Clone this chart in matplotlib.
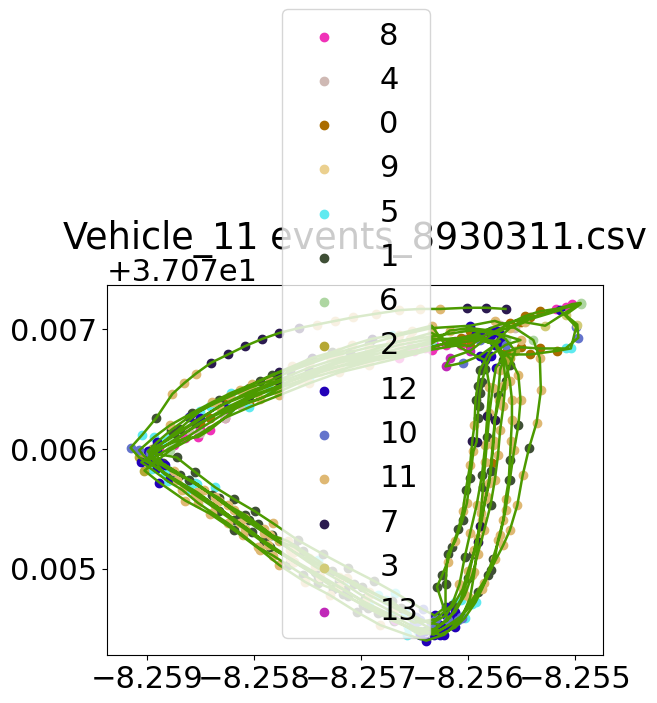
import numpy as np
import matplotlib
matplotlib.use("Agg")
import matplotlib.pyplot as plt

TITLE = "Vehicle_11 events_8930311.csv"

# draw order of the clusters, same as the legend
labels = [8, 4, 0, 9, 5, 1, 6, 2, 12, 10, 11, 7, 3, 13]
colors = ["#f032b8", "#cfb9b4", "#aa6c00", "#ebd08f", "#5feaf0", "#3f4f36", "#aed6a2",
          "#b5a835", "#2200b8", "#6474cc", "#dfb873", "#2b1a50", "#d2cc78", "#c028b8"]

# (lon, lat, cluster), one list per lap
lap_1 = [(-8.25565, 37.07717, 7), (-8.25583, 37.07718, 7), (-8.25601, 37.07718, 7), (-8.25626, 37.07717, 11),
         (-8.25645, 37.07717, 11), (-8.25664, 37.07716, 11), (-8.25686, 37.07713, 11), (-8.25707, 37.07710, 11),
         (-8.25724, 37.07707, 11), (-8.25741, 37.07704, 11), (-8.25758, 37.07701, 7), (-8.25776, 37.07697, 7),
         (-8.25792, 37.07692, 7), (-8.25808, 37.07686, 7), (-8.25824, 37.07679, 7), (-8.25840, 37.07672, 7),
         (-8.25854, 37.07663, 11), (-8.25865, 37.07655, 11), (-8.25876, 37.07646, 11), (-8.25891, 37.07626, 1),
         (-8.25904, 37.07612, 5), (-8.25915, 37.07601, 10), (-8.25907, 37.07593, 2), (-8.25890, 37.07584, 12),
         (-8.25872, 37.07574, 11), (-8.25853, 37.07564, 11), (-8.25836, 37.07553, 11), (-8.25818, 37.07541, 1),
         (-8.25802, 37.07531, 1), (-8.25787, 37.07520, 11), (-8.25763, 37.07506, 1), (-8.25740, 37.07493, 1),
         (-8.25717, 37.07479, 1), (-8.25693, 37.07467, 1), (-8.25669, 37.07456, 1), (-8.25647, 37.07448, 5),
         (-8.25632, 37.07445, 12), (-8.25620, 37.07452, 12), (-8.25607, 37.07460, 10), (-8.25591, 37.07481, 1),
         (-8.25579, 37.07499, 1), (-8.25567, 37.07520, 11), (-8.25561, 37.07532, 11), (-8.25554, 37.07553, 11),
         (-8.25549, 37.07578, 11), (-8.25543, 37.07601, 1), (-8.25536, 37.07622, 11), (-8.25532, 37.07649, 11),
         (-8.25533, 37.07676, 11), (-8.25539, 37.07691, 6), (-8.25556, 37.07701, 4), (-8.25575, 37.07707, 11),
         (-8.25598, 37.07703, 12)]
lap_2 = [(-8.25634, 37.07701, 11), (-8.25664, 37.07695, 11), (-8.25692, 37.07688, 1), (-8.25720, 37.07681, 11),
         (-8.25748, 37.07673, 1), (-8.25776, 37.07664, 7), (-8.25794, 37.07657, 1), (-8.25813, 37.07649, 11),
         (-8.25832, 37.07641, 1), (-8.25850, 37.07632, 5), (-8.25869, 37.07617, 1), (-8.25883, 37.07607, 5),
         (-8.25897, 37.07597, 10), (-8.25872, 37.07593, 1), (-8.25855, 37.07581, 1), (-8.25836, 37.07568, 5),
         (-8.25818, 37.07558, 1), (-8.25799, 37.07548, 1), (-8.25782, 37.07538, 11), (-8.25759, 37.07524, 1),
         (-8.25735, 37.07512, 1), (-8.25712, 37.07501, 1), (-8.25688, 37.07490, 1), (-8.25668, 37.07480, 5),
         (-8.25642, 37.07466, 10), (-8.25631, 37.07461, 12), (-8.25621, 37.07468, 12), (-8.25621, 37.07487, 1),
         (-8.25619, 37.07512, 1), (-8.25612, 37.07523, 11), (-8.25605, 37.07541, 1), (-8.25601, 37.07555, 11),
         (-8.25598, 37.07576, 1), (-8.25595, 37.07598, 11), (-8.25592, 37.07606, 7), (-8.25591, 37.07626, 1),
         (-8.25590, 37.07636, 1), (-8.25589, 37.07647, 1), (-8.25587, 37.07656, 1), (-8.25584, 37.07667, 1),
         (-8.25579, 37.07678, 12), (-8.25565, 37.07687, 10), (-8.25551, 37.07691, 11)]
lap_3 = [(-8.25570, 37.07696, 12), (-8.25598, 37.07699, 0), (-8.25634, 37.07694, 11), (-8.25664, 37.07690, 11),
         (-8.25692, 37.07682, 5), (-8.25720, 37.07676, 11), (-8.25748, 37.07668, 11), (-8.25776, 37.07658, 1),
         (-8.25804, 37.07648, 11), (-8.25827, 37.07638, 0), (-8.25850, 37.07626, 12), (-8.25874, 37.07612, 1),
         (-8.25892, 37.07601, 12), (-8.25897, 37.07593, 12), (-8.25878, 37.07582, 5), (-8.25855, 37.07572, 5),
         (-8.25832, 37.07557, 11), (-8.25808, 37.07542, 11), (-8.25785, 37.07528, 11), (-8.25762, 37.07514, 11),
         (-8.25738, 37.07502, 11), (-8.25715, 37.07491, 5), (-8.25692, 37.07478, 11), (-8.25668, 37.07467, 11),
         (-8.25645, 37.07457, 10), (-8.25626, 37.07453, 12), (-8.25612, 37.07464, 12), (-8.25603, 37.07478, 11),
         (-8.25596, 37.07495, 11), (-8.25591, 37.07512, 11), (-8.25585, 37.07532, 11), (-8.25579, 37.07553, 1),
         (-8.25575, 37.07574, 11), (-8.25572, 37.07595, 11), (-8.25570, 37.07616, 11), (-8.25567, 37.07636, 11),
         (-8.25565, 37.07657, 1), (-8.25567, 37.07674, 1), (-8.25575, 37.07687, 12), (-8.25589, 37.07695, 12)]
lap_4 = [(-8.25607, 37.07693, 0), (-8.25634, 37.07690, 5), (-8.25664, 37.07684, 11), (-8.25692, 37.07678, 1),
         (-8.25720, 37.07672, 11), (-8.25748, 37.07663, 11), (-8.25776, 37.07653, 11), (-8.25804, 37.07644, 7),
         (-8.25827, 37.07634, 12), (-8.25850, 37.07622, 0), (-8.25874, 37.07607, 4), (-8.25897, 37.07595, 2),
         (-8.25883, 37.07579, 5), (-8.25860, 37.07567, 5), (-8.25836, 37.07553, 11), (-8.25813, 37.07538, 11),
         (-8.25790, 37.07523, 1), (-8.25766, 37.07509, 11), (-8.25743, 37.07497, 1), (-8.25720, 37.07485, 11),
         (-8.25696, 37.07472, 11), (-8.25673, 37.07462, 5), (-8.25650, 37.07451, 10), (-8.25631, 37.07449, 12),
         (-8.25617, 37.07459, 12), (-8.25607, 37.07474, 5), (-8.25600, 37.07492, 1), (-8.25594, 37.07516, 11),
         (-8.25589, 37.07536, 7), (-8.25583, 37.07561, 11), (-8.25579, 37.07582, 1), (-8.25577, 37.07603, 11),
         (-8.25575, 37.07624, 7), (-8.25572, 37.07645, 1), (-8.25570, 37.07666, 11), (-8.25565, 37.07681, 0),
         (-8.25551, 37.07685, 0), (-8.25533, 37.07684, 0), (-8.25509, 37.07684, 5), (-8.25497, 37.07693, 10),
         (-8.25498, 37.07704, 3), (-8.25509, 37.07712, 3), (-8.25495, 37.07721, 6), (-8.25509, 37.07718, 8),
         (-8.25542, 37.07710, 0), (-8.25570, 37.07704, 4), (-8.25593, 37.07696, 12)]
lap_5 = [(-8.25634, 37.07685, 8), (-8.25664, 37.07678, 8), (-8.25692, 37.07673, 9), (-8.25720, 37.07666, 11),
         (-8.25748, 37.07659, 5), (-8.25776, 37.07648, 8), (-8.25804, 37.07639, 0), (-8.25827, 37.07630, 8),
         (-8.25850, 37.07617, 8), (-8.25874, 37.07603, 8), (-8.25899, 37.07590, 12), (-8.25878, 37.07576, 12),
         (-8.25855, 37.07562, 11), (-8.25832, 37.07548, 1), (-8.25808, 37.07533, 11), (-8.25785, 37.07518, 1),
         (-8.25762, 37.07506, 11), (-8.25738, 37.07493, 11), (-8.25715, 37.07482, 1), (-8.25692, 37.07469, 5),
         (-8.25668, 37.07457, 13), (-8.25645, 37.07445, 12), (-8.25626, 37.07449, 12), (-8.25609, 37.07457, 10),
         (-8.25596, 37.07471, 5), (-8.25585, 37.07488, 11), (-8.25577, 37.07508, 1), (-8.25570, 37.07528, 11),
         (-8.25565, 37.07549, 11), (-8.25561, 37.07574, 1), (-8.25557, 37.07599, 11), (-8.25553, 37.07620, 1),
         (-8.25551, 37.07641, 11), (-8.25553, 37.07662, 11), (-8.25561, 37.07676, 2), (-8.25575, 37.07687, 6),
         (-8.25589, 37.07692, 12), (-8.25598, 37.07686, 0)]
lap_6 = [(-8.25607, 37.07687, 8), (-8.25634, 37.07683, 8), (-8.25664, 37.07676, 8), (-8.25692, 37.07670, 11),
         (-8.25720, 37.07664, 11), (-8.25748, 37.07655, 11), (-8.25776, 37.07645, 11), (-8.25804, 37.07635, 5),
         (-8.25827, 37.07626, 8), (-8.25850, 37.07613, 4), (-8.25878, 37.07599, 6), (-8.25902, 37.07582, 2),
         (-8.25888, 37.07572, 12), (-8.25864, 37.07557, 11), (-8.25841, 37.07546, 11), (-8.25818, 37.07532, 1),
         (-8.25794, 37.07516, 11), (-8.25776, 37.07503, 11), (-8.25752, 37.07489, 11), (-8.25729, 37.07478, 11),
         (-8.25704, 37.07464, 1), (-8.25682, 37.07453, 11), (-8.25657, 37.07445, 5), (-8.25639, 37.07440, 12),
         (-8.25622, 37.07445, 12), (-8.25606, 37.07459, 10), (-8.25598, 37.07476, 11), (-8.25594, 37.07497, 11),
         (-8.25591, 37.07522, 7), (-8.25588, 37.07547, 11), (-8.25586, 37.07568, 1), (-8.25584, 37.07589, 11),
         (-8.25582, 37.07610, 1), (-8.25580, 37.07630, 11), (-8.25577, 37.07651, 11), (-8.25574, 37.07668, 12),
         (-8.25565, 37.07679, 0), (-8.25542, 37.07679, 0), (-8.25517, 37.07682, 0), (-8.25504, 37.07684, 5),
         (-8.25499, 37.07702, 10), (-8.25514, 37.07716, 12), (-8.25551, 37.07706, 0), (-8.25579, 37.07695, 12)]
lap_7 = [(-8.25598, 37.07682, 13), (-8.25617, 37.07676, 13), (-8.25621, 37.07669, 13), (-8.25605, 37.07672, 10),
         (-8.25589, 37.07678, 12), (-8.25570, 37.07690, 12), (-8.25598, 37.07692, 0), (-8.25634, 37.07692, 11),
         (-8.25664, 37.07687, 11), (-8.25692, 37.07680, 1), (-8.25720, 37.07674, 1), (-8.25748, 37.07665, 7),
         (-8.25776, 37.07656, 7), (-8.25804, 37.07646, 1), (-8.25832, 37.07636, 11), (-8.25855, 37.07622, 1),
         (-8.25878, 37.07609, 5), (-8.25895, 37.07600, 2), (-8.25885, 37.07588, 1), (-8.25860, 37.07574, 1),
         (-8.25836, 37.07560, 11), (-8.25813, 37.07544, 1), (-8.25790, 37.07530, 11), (-8.25766, 37.07516, 11),
         (-8.25743, 37.07502, 11), (-8.25720, 37.07490, 1), (-8.25696, 37.07476, 1), (-8.25673, 37.07465, 5),
         (-8.25650, 37.07455, 10), (-8.25630, 37.07458, 10), (-8.25615, 37.07470, 1), (-8.25608, 37.07487, 11),
         (-8.25603, 37.07510, 1), (-8.25598, 37.07530, 11), (-8.25592, 37.07553, 11), (-8.25587, 37.07578, 1),
         (-8.25584, 37.07603, 11), (-8.25582, 37.07628, 7), (-8.25580, 37.07652, 11), (-8.25584, 37.07674, 12)]
lap_8 = [(-8.25634, 37.07697, 11), (-8.25654, 37.07692, 11), (-8.25673, 37.07688, 11), (-8.25692, 37.07685, 11),
         (-8.25710, 37.07681, 1), (-8.25729, 37.07677, 11), (-8.25748, 37.07671, 11), (-8.25766, 37.07665, 1),
         (-8.25785, 37.07657, 11), (-8.25804, 37.07651, 1), (-8.25822, 37.07644, 11), (-8.25841, 37.07636, 5),
         (-8.25860, 37.07627, 12), (-8.25877, 37.07616, 1), (-8.25890, 37.07606, 12), (-8.25899, 37.07598, 12),
         (-8.25888, 37.07589, 12), (-8.25874, 37.07582, 11), (-8.25860, 37.07574, 5), (-8.25846, 37.07566, 11),
         (-8.25832, 37.07559, 1), (-8.25818, 37.07549, 11), (-8.25804, 37.07541, 1), (-8.25790, 37.07533, 11),
         (-8.25776, 37.07523, 11), (-8.25762, 37.07518, 1), (-8.25748, 37.07509, 11), (-8.25734, 37.07501, 1),
         (-8.25720, 37.07493, 11), (-8.25706, 37.07487, 1), (-8.25692, 37.07481, 11), (-8.25677, 37.07474, 5),
         (-8.25663, 37.07467, 1), (-8.25649, 37.07460, 10), (-8.25635, 37.07454, 10), (-8.25621, 37.07461, 12),
         (-8.25612, 37.07472, 5), (-8.25605, 37.07483, 11), (-8.25600, 37.07498, 11), (-8.25595, 37.07512, 1),
         (-8.25591, 37.07526, 11), (-8.25587, 37.07541, 11), (-8.25584, 37.07558, 11), (-8.25580, 37.07572, 11),
         (-8.25578, 37.07588, 0), (-8.25576, 37.07607, 11), (-8.25575, 37.07624, 11), (-8.25571, 37.07641, 11),
         (-8.25567, 37.07653, 11), (-8.25561, 37.07670, 1), (-8.25556, 37.07682, 2), (-8.25565, 37.07692, 6),
         (-8.25579, 37.07699, 12), (-8.25598, 37.07701, 0), (-8.25617, 37.07699, 11)]
lap_9 = [(-8.25634, 37.07688, 8), (-8.25654, 37.07684, 8), (-8.25673, 37.07679, 9), (-8.25692, 37.07676, 11),
         (-8.25710, 37.07672, 9), (-8.25729, 37.07667, 11), (-8.25748, 37.07662, 9), (-8.25766, 37.07657, 11),
         (-8.25785, 37.07649, 5), (-8.25804, 37.07642, 11), (-8.25822, 37.07634, 5), (-8.25841, 37.07626, 0),
         (-8.25860, 37.07616, 4), (-8.25877, 37.07606, 6), (-8.25890, 37.07598, 12), (-8.25905, 37.07589, 12),
         (-8.25895, 37.07583, 5), (-8.25880, 37.07573, 5), (-8.25867, 37.07566, 11), (-8.25852, 37.07555, 11),
         (-8.25839, 37.07547, 11), (-8.25824, 37.07538, 11), (-8.25810, 37.07528, 11), (-8.25796, 37.07518, 11),
         (-8.25782, 37.07511, 11), (-8.25768, 37.07503, 1), (-8.25754, 37.07495, 1), (-8.25740, 37.07488, 1),
         (-8.25726, 37.07483, 1), (-8.25712, 37.07477, 1), (-8.25698, 37.07470, 1), (-8.25684, 37.07463, 1),
         (-8.25670, 37.07458, 1), (-8.25656, 37.07451, 5), (-8.25640, 37.07448, 12), (-8.25626, 37.07445, 12),
         (-8.25612, 37.07451, 12), (-8.25603, 37.07459, 5), (-8.25593, 37.07472, 5), (-8.25587, 37.07483, 11),
         (-8.25581, 37.07495, 1), (-8.25575, 37.07508, 11), (-8.25572, 37.07524, 11), (-8.25567, 37.07541, 11),
         (-8.25565, 37.07558, 11), (-8.25562, 37.07574, 1), (-8.25561, 37.07591, 1), (-8.25560, 37.07607, 11),
         (-8.25559, 37.07624, 11), (-8.25559, 37.07641, 11), (-8.25561, 37.07657, 11), (-8.25565, 37.07674, 2),
         (-8.25573, 37.07687, 12), (-8.25589, 37.07691, 10), (-8.25607, 37.07689, 0), (-8.25621, 37.07687, 8)]
lap_10 = [(-8.25634, 37.07703, 11), (-8.25652, 37.07699, 11), (-8.25671, 37.07695, 5), (-8.25690, 37.07692, 7),
          (-8.25708, 37.07687, 11), (-8.25727, 37.07681, 1), (-8.25746, 37.07676, 7), (-8.25764, 37.07669, 11),
          (-8.25783, 37.07662, 1), (-8.25802, 37.07654, 11), (-8.25821, 37.07647, 5), (-8.25839, 37.07639, 11),
          (-8.25858, 37.07630, 1), (-8.25878, 37.07620, 11), (-8.25893, 37.07610, 5), (-8.25907, 37.07599, 10),
          (-8.25897, 37.07589, 2), (-8.25883, 37.07587, 12), (-8.25869, 37.07578, 1), (-8.25853, 37.07571, 5),
          (-8.25839, 37.07562, 1), (-8.25824, 37.07553, 11), (-8.25808, 37.07545, 1), (-8.25796, 37.07537, 1),
          (-8.25783, 37.07528, 1), (-8.25768, 37.07523, 11), (-8.25754, 37.07515, 1), (-8.25740, 37.07507, 5),
          (-8.25727, 37.07498, 1), (-8.25713, 37.07492, 11), (-8.25699, 37.07485, 1), (-8.25684, 37.07478, 5),
          (-8.25671, 37.07473, 1), (-8.25659, 37.07464, 5), (-8.25647, 37.07456, 10), (-8.25633, 37.07449, 12),
          (-8.25619, 37.07457, 10), (-8.25629, 37.07485, 1), (-8.25624, 37.07495, 1), (-8.25619, 37.07506, 11),
          (-8.25615, 37.07518, 1), (-8.25609, 37.07533, 1), (-8.25605, 37.07548, 11), (-8.25602, 37.07566, 1),
          (-8.25598, 37.07587, 11), (-8.25596, 37.07607, 7), (-8.25594, 37.07620, 11), (-8.25593, 37.07641, 1),
          (-8.25591, 37.07653, 1), (-8.25589, 37.07666, 1), (-8.25582, 37.07678, 12), (-8.25573, 37.07691, 4),
          (-8.25561, 37.07701, 11), (-8.25547, 37.07706, 11), (-8.25528, 37.07703, 3)]
lap_11 = [(-8.25495, 37.07722, 6), (-8.25503, 37.07721, 8), (-8.25509, 37.07719, 8), (-8.25518, 37.07717, 8),
          (-8.25533, 37.07715, 0), (-8.25547, 37.07711, 0), (-8.25561, 37.07705, 0), (-8.25573, 37.07699, 12),
          (-8.25584, 37.07695, 8), (-8.25593, 37.07693, 8), (-8.25603, 37.07692, 8), (-8.25612, 37.07690, 8),
          (-8.25621, 37.07688, 8), (-8.25631, 37.07686, 8), (-8.25640, 37.07684, 8), (-8.25650, 37.07682, 8),
          (-8.25664, 37.07680, 9), (-8.25682, 37.07677, 9), (-8.25701, 37.07672, 9), (-8.25720, 37.07669, 9),
          (-8.25738, 37.07664, 9), (-8.25757, 37.07657, 9), (-8.25776, 37.07651, 9), (-8.25794, 37.07642, 11),
          (-8.25813, 37.07637, 4), (-8.25827, 37.07626, 4), (-8.25841, 37.07616, 8), (-8.25852, 37.07610, 8),
          (-8.25864, 37.07609, 8), (-8.25877, 37.07605, 8), (-8.25888, 37.07601, 8), (-8.25897, 37.07595, 12)]
laps = [lap_1, lap_2, lap_3, lap_4, lap_5, lap_6, lap_7, lap_8, lap_9, lap_10, lap_11]

track = np.array([p for lap in laps for p in lap])
lon = track[:, 0]
lat = track[:, 1]
cluster = track[:, 2].astype(int)

plt.rcParams['font.size'] = 22
fig = plt.figure(figsize=(6.57, 7.03), dpi=100)
ax = fig.add_axes([107 / 657, 48 / 703, 496 / 657, 370 / 703])

for label, color in zip(labels, colors):
    keep = cluster == label
    ax.scatter(lon[keep], lat[keep], color=color, label=str(label))
ax.plot(lon, lat, color="#4c9a00", lw=1.8)

ax.set_xlim(-8.25937, -8.25474)
ax.set_ylim(37.07428, 37.07737)
ax.set_xticks([-8.259, -8.258, -8.257, -8.256, -8.255])
ax.set_yticks([37.075, 37.076, 37.077])
ax.set_title(TITLE)
ax.legend(loc="center", bbox_to_anchor=(0.502, 0.895))

plt.savefig("out.png", dpi=100)
